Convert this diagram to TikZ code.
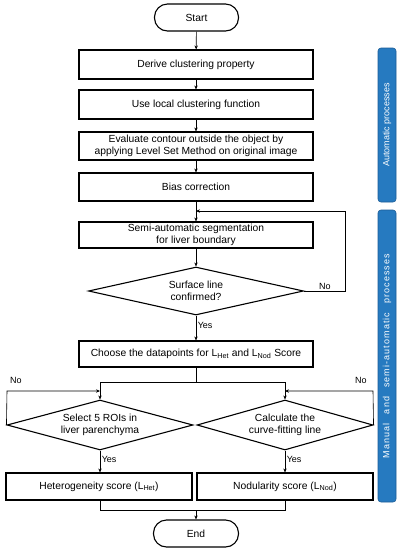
\documentclass[tikz,border=0pt]{standalone}
\usepackage{fontspec}
\setmainfont{Liberation Sans}
\usetikzlibrary{shapes.geometric,arrows.meta}
\definecolor{barblue}{RGB}{38,122,192}
\definecolor{baredge}{RGB}{28,92,150}
\begin{document}
\begin{tikzpicture}[x=1pt,y=-1pt,
  txt/.style={font=\fontsize{10.3}{12.5}\selectfont},
  proc/.style={draw, line width=1.1pt, minimum width=234pt, minimum height=28pt, align=center, txt, inner sep=1pt},
  term/.style={draw, line width=1.1pt, rounded corners=13pt, minimum width=84pt, minimum height=27pt, txt},
  dec/.style={diamond, draw, line width=1.1pt, inner sep=0pt},
  dectext/.style={align=center, txt, inner sep=0pt},
  conn/.style={line width=0.6pt},
  arr/.style={line width=0.6pt, -{Stealth[length=4pt,width=3.4pt]}},
  lbl/.style={font=\fontsize{9}{10}\selectfont, inner sep=1.5pt},
  bar/.style={draw=baredge, fill=barblue, line width=0.6pt, rounded corners=3pt, minimum width=18pt, text=white, font=\fontsize{9}{10}\selectfont, inner sep=0pt}
]
\useasboundingbox (0,0) rectangle (401,550);

\node[term] (start) at (196.5,17.5) {Start};
\node[proc, minimum height=29pt] (b1) at (196,64.5) {Derive clustering property};
\node[proc, minimum height=29pt] (b2) at (196,104.5) {Use local clustering function};
\node[proc] (b3) at (196,146) {Evaluate contour outside the object by\\applying Level Set Method on original image};
\node[proc] (b4) at (196,187) {Bias correction};
\node[proc, minimum height=26pt] (b5) at (196,235) {Semi-automatic segmentation\\for liver boundary};
\node[dec, minimum width=215pt, minimum height=48pt] (d1) at (196,291) {};
\node[dectext] (d1t) at (d1.center) {Surface line\\confirmed?};
\node[proc, minimum height=26pt] (b6) at (196,354) {Choose the datapoints for L\textsubscript{Het} and L\textsubscript{Nod} Score};
\node[dec, minimum width=186pt, minimum height=50pt] (d2) at (100,425) {};
\node[dectext] (d2t) at (d2.center) {Select 5 ROIs in\\liver parenchyma};
\node[dec, minimum width=176pt, minimum height=50pt] (d3) at (285,425) {};
\node[dectext] (d3t) at (d3.center) {Calculate the\\curve-fitting line};
\node[proc, minimum width=186pt, minimum height=27pt] (b7) at (99,486.5) {Heterogeneity score (L\textsubscript{Het})};
\node[proc, minimum width=176pt, minimum height=27pt] (b8) at (285,486.5) {Nodularity score (L\textsubscript{Nod})};
\node[term, minimum width=85pt] (end) at (196,533.5) {End};

\node[bar, minimum height=154pt] (bar1) at (387,125) {\rotatebox{90}{Automatic processes}};
\node[bar, minimum height=292pt] (bar2) at (387,356) {\rotatebox{90}{\addfontfeature{LetterSpace=12}\makebox[204pt][s]{Manual and semi-automatic processes}}};

\draw[arr] (start) -- (b1);
\draw[arr] (b1) -- (b2);
\draw[arr] (b2) -- (b3);
\draw[arr] (b3) -- (b4);
\draw[arr] (b4) -- (b5);
\draw[arr] (b5) -- (d1);
\draw[arr] (d1.south) -- node[lbl, right, pos=0.4] {Yes} (b6.north);

\coordinate (fb1) at (196,211);
\draw[arr] (d1.east) -- (345,291) -- (345,211) -- (fb1);
\node[lbl] (no1) at (325,286) {No};

\coordinate (j1) at (196,382);
\coordinate (jl) at (100,382);
\coordinate (jr) at (285,382);
\draw[conn] (b6.south) -- (j1);
\draw[conn] (jl) -- (jr);
\draw[arr] (jl) -- (d2.north);
\draw[arr] (jr) -- (d3.north);

\coordinate (fb2) at (100,391);
\coordinate (fb3) at (285,391);
\draw[arr] (d2.west) -- (7,391) -- (fb2);
\draw[arr] (d3.east) -- (373,391) -- (fb3);
\node[lbl] (no2) at (16,380) {No};
\node[lbl] (no3) at (361,380) {No};

\draw[arr] (d2.south) -- node[lbl, right, pos=0.4] {Yes} (b7.north -| d2.south);
\draw[arr] (d3.south) -- node[lbl, right, pos=0.4] {Yes} (b8.north);

\coordinate (j2) at (196,510);
\draw[conn] (b7.south -| d2.south) -- (100,510) -- (285,510) -- (b8.south);
\draw[arr] (j2) -- (end.north);
\end{tikzpicture}
\end{document}
